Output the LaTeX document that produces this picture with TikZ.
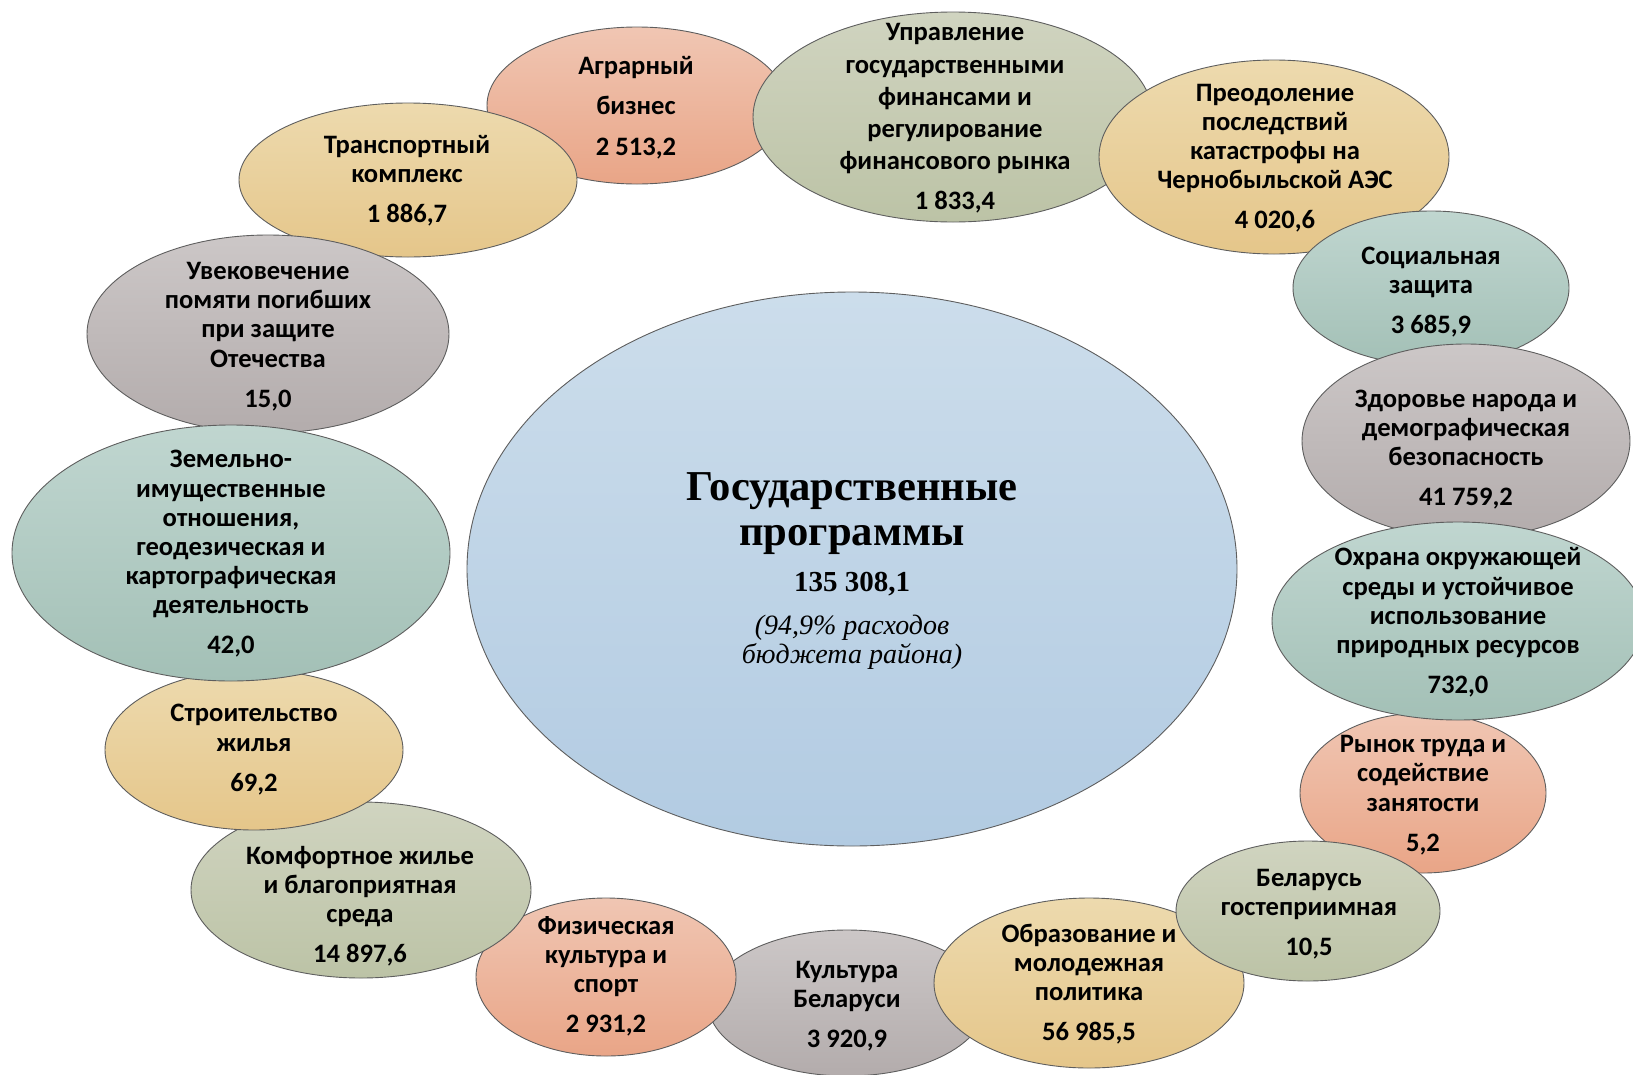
\documentclass[tikz,border=0pt]{standalone}
\usepackage{fontspec}
\newfontfamily\carl{Carlito}
\newfontfamily\tnr{Liberation Serif}
\definecolor{edgec}{HTML}{5E5E5E}
\definecolor{salT}{HTML}{F0C6B3}
\definecolor{salB}{HTML}{E9A587}
\definecolor{tanT}{HTML}{EDDAAE}
\definecolor{tanB}{HTML}{E5C68A}
\definecolor{sagT}{HTML}{D0D4C0}
\definecolor{sagB}{HTML}{BCC3A6}
\definecolor{tealT}{HTML}{C0D6D0}
\definecolor{tealB}{HTML}{A3C0B6}
\definecolor{grayT}{HTML}{CCC7C7}
\definecolor{grayB}{HTML}{B3ACAC}
\definecolor{bluT}{HTML}{CCDDEB}
\definecolor{bluB}{HTML}{B2CBE2}
\newcommand\labfont{\carl\bfseries\fontsize{26.6}{29.2}\selectfont}
\begin{document}
\begin{tikzpicture}[x=1pt,y=-1pt,
  oval/.style={draw=edgec,line width=0.9pt},
  salmon/.style={oval,top color=salT,bottom color=salB},
  tan/.style={oval,top color=tanT,bottom color=tanB},
  sage/.style={oval,top color=sagT,bottom color=sagB},
  teal/.style={oval,top color=tealT,bottom color=tealB},
  grey/.style={oval,top color=grayT,bottom color=grayB},
  blue/.style={oval,top color=bluT,bottom color=bluB},
  lbl/.style={align=center,font=\labfont,inner sep=0pt,text=black}]
\useasboundingbox (0,0) rectangle (1633,1074);
\clip (0,0) rectangle (1633,1074);
% ellipses, back to front
\path[salmon] (637,105.5) ellipse [x radius=150pt,y radius=78.5pt];
\path[tan]    (408,180) ellipse [x radius=169pt,y radius=77pt];
\path[grey]   (268,334) ellipse [x radius=181pt,y radius=99pt];
\path[sage]   (953,117) ellipse [x radius=200pt,y radius=105pt];
\path[tan]    (1274,157) ellipse [x radius=175pt,y radius=97pt];
\path[teal]   (1431,288) ellipse [x radius=138pt,y radius=77pt];
\path[grey]   (1466,441) ellipse [x radius=164pt,y radius=97pt];
\path[salmon] (1423,793) ellipse [x radius=123pt,y radius=80pt];
\path[teal]   (1458,621) ellipse [x radius=186pt,y radius=99pt];
\path[grey]   (847,1003) ellipse [x radius=139pt,y radius=73pt];
\path[salmon] (606,977) ellipse [x radius=130pt,y radius=79pt];
\path[tan]    (1089,983) ellipse [x radius=155pt,y radius=85pt];
\path[sage]   (1308,911) ellipse [x radius=132pt,y radius=70pt];
\path[sage]   (361,890) ellipse [x radius=170pt,y radius=88pt];
\path[tan]    (254,750) ellipse [x radius=149pt,y radius=80pt];
\path[teal]   (231,553) ellipse [x radius=219pt,y radius=128pt];
\path[blue]   (852,569) ellipse [x radius=385pt,y radius=277pt];
% labels
\node[lbl,font=\carl\bfseries\fontsize{26.6}{40.6}\selectfont] (agr) at (636,107.5) {Аграрный\\бизнес\\2 513,2};
\node[lbl,font=\carl\bfseries\fontsize{26.6}{32.3}\selectfont] (upr) at (955,118.5) {Управление\\государственными\\финансами и\\регулирование\\финансового рынка\\[7.7pt]1 833,4};
\node[lbl] (pre) at (1275,158) {Преодоление\\последствий\\катастрофы на\\Чернобыльской АЭС\\[10.8pt]4 020,6};
\node[lbl] (soc) at (1431,292) {Социальная\\защита\\[10.8pt]3 685,9};
\node[lbl] (zdr) at (1466,449.5) {Здоровье народа и\\демографическая\\безопасность\\[10.8pt]41 759,2};
\node[lbl] (ohr) at (1458,622.5) {Охрана окружающей\\среды и устойчивое\\использование\\природных ресурсов\\[10.8pt]732,0};
\node[lbl] (ryn) at (1423,795) {Рынок труда и\\содействие\\занятости\\[10.8pt]5,2};
\node[lbl] (bel) at (1309,914.5) {Беларусь\\гостеприимная\\[10.8pt]10,5};
\node[lbl] (obr) at (1089,984) {Образование и\\молодежная\\политика\\[10.8pt]56 985,5};
\node[lbl] (kul) at (847,1006.5) {Культура\\Беларуси\\[10.8pt]3 920,9};
\node[lbl] (fiz) at (606,976.5) {Физическая\\культура и\\спорт\\[10.8pt]2 931,2};
\node[lbl] (kom) at (360,906.5) {Комфортное жилье\\и благоприятная\\среда\\[10.8pt]14 897,6};
\node[lbl] (str) at (254,749.5) {Строительство\\жилья\\[10.8pt]69,2};
\node[lbl] (zem) at (231,554) {Земельно-\\имущественные\\отношения,\\геодезическая и\\картографическая\\деятельность\\[10.8pt]42,0};
\node[lbl] (uve) at (268,336.5) {Увековечение\\помяти погибших\\при защите\\Отечества\\[10.8pt]15,0};
\node[lbl] (tra) at (407,181) {Транспортный\\комплекс\\[10.8pt]1 886,7};
% centre
\node[lbl,font=\tnr\bfseries\fontsize{42.6}{45}\selectfont] (title) at (852,514) {Государственные\\программы};
\node[lbl,font=\tnr\bfseries\fontsize{29}{32}\selectfont] (total) at (852,584) {135 308,1};
\node[lbl,font=\tnr\itshape\fontsize{28}{29}\selectfont] (share) at (852,642) {(94,9\% расходов\\бюджета района)};
\end{tikzpicture}
\end{document}
